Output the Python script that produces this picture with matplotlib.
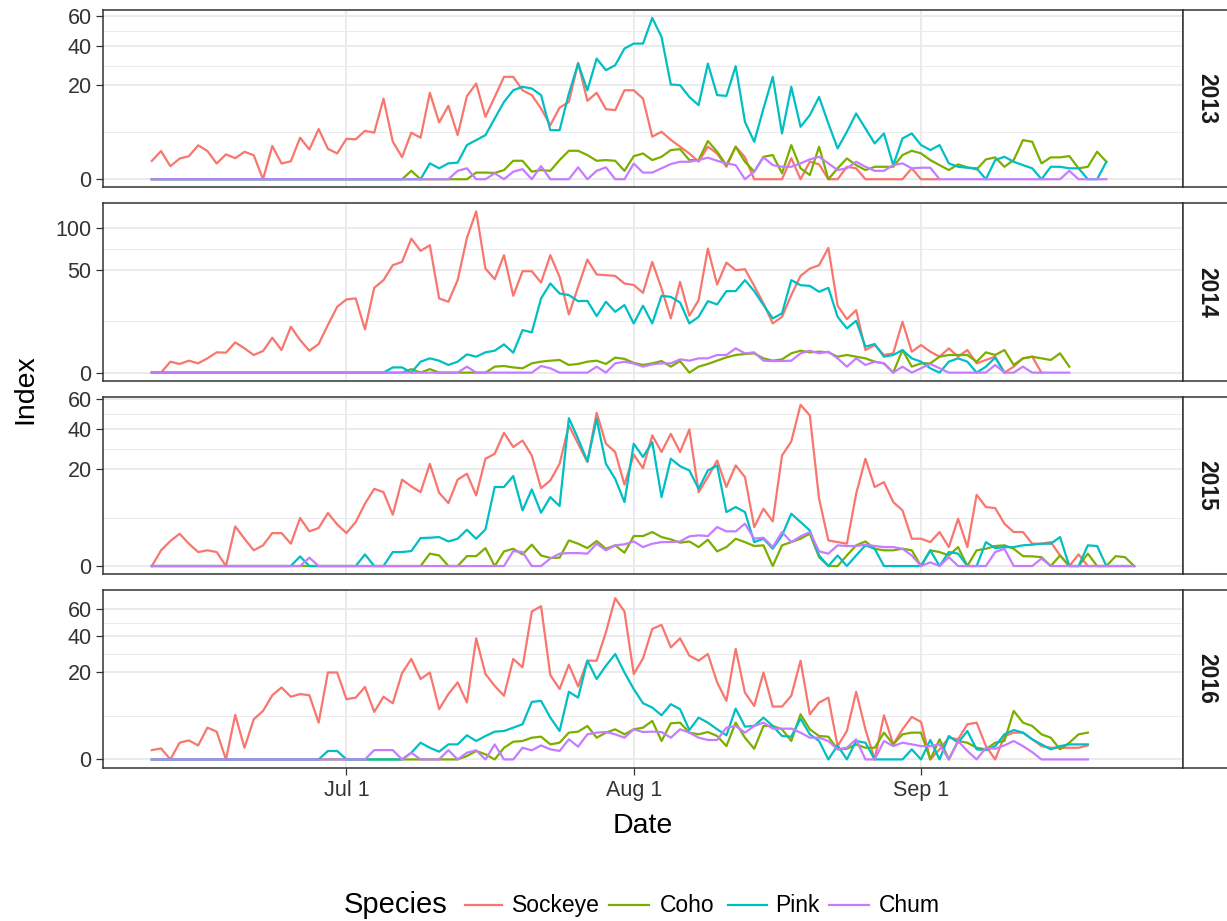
import numpy as np
import matplotlib
matplotlib.use("Agg")
import matplotlib.pyplot as plt
import matplotlib.dates as mdates
from matplotlib.lines import Line2D

plt.rcParams['font.family'] = ['Liberation Sans', 'DejaVu Sans']

# ---------------- data ----------------
years = [2013, 2014, 2015, 2016]
species = ['Sockeye', 'Coho', 'Pink', 'Chum']
colors = ['#F8766D', '#7CAE00', '#00BFC4', '#C77CFF']
season_start = '06-10'          # first survey day (same each year)
plot_year = '2000'              # common calendar used for the shared Date axis

sockeye_2013 = [0.76, 1.8, 0.38, 0.97, 1.2, 2.6, 1.8, 0.56, 1.4, 1.0,
                1.7, 1.3, 0, 2.5, 0.56, 0.73, 3.9, 2.0, 5.7, 2.1,
                1.5, 3.7, 3.6, 5.3, 4.9, 14.7, 3.2, 1.1, 4.9, 3.9,
                16.9, 7.3, 12.2, 4.4, 15.6, 20.7, 8.8, 15.3, 23.7, 23.7,
                17.9, 16.0, 11.3, 6.6, 11.6, 13.5, 30.6, 13.9, 16.9, 11.1,
                10.8, 17.9, 17.9, 14.7, 4.1, 5.1, 3.5, 2.4, 1.5, 0.7,
                2.4, 1.5, 0.35, 2.4, 1.1, 0, 0, 0, 0, 1.0,
                0, 0.7, 0.5, 0, 0, 0.35, 0.27, 0, 0, 0,
                0, 0, 0.27, 0, 0, 0]
coho_2013 = [0, 0, 0, 0, 0, 0, 0, 0, 0, 0,
             0, 0, 0, 0, 0, 0, 0, 0, 0, 0,
             0, 0, 0, 0, 0, 0, 0, 0, 0.16, 0,
             0, 0, 0, 0, 0, 0.1, 0.1, 0.09, 0.19, 0.77,
             0.77, 0.13, 0.19, 0.16, 0.83, 1.83, 1.83, 1.32, 0.77, 0.83,
             0.77, 0.16, 1.2, 1.5, 0.83, 1.14, 1.92, 2.05, 0.83, 0.83,
             3.3, 1.71, 0.45, 2.38, 0.69, 0.13, 1.14, 1.32, 0.08, 2.64,
             0.27, 0.04, 2.38, 0, 0.27, 0.98, 0.45, 0.19, 0.35, 0.35,
             0.35, 1.32, 1.83, 1.51, 0.83, 0.45, 0.19, 0.5, 0.32, 0.22,
             0.89, 1.08, 0.35, 0.83, 3.46, 3.17, 0.57, 1.08, 1.08, 1.21,
             0.27, 0.35, 1.71, 0.69]
pink_2013 = [0, 0, 0, 0, 0, 0, 0, 0, 0, 0,
             0, 0, 0, 0, 0, 0, 0, 0, 0, 0,
             0, 0, 0, 0, 0, 0, 0, 0, 0, 0,
             0.57, 0.27, 0.57, 0.62, 2.64, 3.46, 4.4, 8.35, 13.5, 17.9,
             19.3, 18.6, 16.0, 5.45, 5.45, 16.6, 30.2, 17.9, 32.9, 26.9,
             29.4, 38.6, 41.6, 41.6, 58.8, 45.8, 20.3, 20.0, 15.3, 12.4,
             30.2, 16.0, 15.7, 28.9, 7.46, 3.17, 11.3, 23.7, 4.74, 19.3,
             6.22, 9.29, 15.3, 7.03, 2.15, 5.09, 9.78, 5.83, 2.9, 4.74,
             0.45, 3.76, 4.74, 2.64, 1.92, 2.64, 0.57, 0.35, 0.3, 0.27,
             0, 0.83, 1.14, 0.69, 0.45, 0.27, 0, 0.35, 0.35, 0.27,
             0.27, 0, 0, 0.69]
chum_2013 = [0, 0, 0, 0, 0, 0, 0, 0, 0, 0,
             0, 0, 0, 0, 0, 0, 0, 0, 0, 0,
             0, 0, 0, 0, 0, 0, 0, 0, 0, 0,
             0, 0, 0, 0.16, 0.27, 0, 0, 0.08, 0, 0.13,
             0.23, 0, 0.39, 0, 0, 0, 0.32, 0, 0.16, 0.32,
             0, 0, 0.55, 0.1, 0.1, 0.27, 0.52, 0.69, 0.69, 0.83,
             1.05, 0.77, 0.57, 0.45, 0, 0.13, 1.08, 0.45, 0.35, 0.35,
             0.57, 0.89, 1.14, 0.57, 0.19, 0.27, 0.69, 0.35, 0.16, 0.16,
             0.45, 0.57, 0.27, 0.3, 0.3, 0, 0, 0, 0, 0,
             0, 0, 0, 0, 0, 0, 0, 0, 0, 0.16,
             0, 0, 0, 0]

sockeye_2014 = [0, 0, 0.57, 0.36, 0.68, 0.41, 0.97, 1.96, 1.89, 4.36,
                2.8, 1.48, 2.22, 5.8, 2.43, 10.0, 5.05, 2.29, 3.89, 10.8,
                20.6, 25.5, 26.2, 8.89, 34.2, 40.7, 54.9, 58.3, 85.4, 70.5,
                77.2, 26.2, 23.9, 40.7, 86.3, 123.7, 51.5, 41.5, 65.6, 28.1,
                48.9, 48.9, 38.6, 65.6, 43.6, 16.1, 35.0, 60.8, 45.8, 45.2,
                44.5, 37.8, 36.5, 30.3, 58.3, 33.7, 14.0, 39.2, 15.4, 25.0,
                73.2, 36.9, 57.6, 49.9, 50.9, 35.8, 22.8, 11.5, 14.8, 28.6,
                44.5, 51.5, 54.9, 74.0, 21.3, 13.6, 18.6, 2.43, 3.62, 1.48,
                1.77, 12.3, 2.09, 3.62, 2.09, 1.21, 2.8, 1.21, 2.43, 0.41,
                0.76, 1.21, 0, 0.17, 0.97, 1.21, 0]
coho_2014 = [0, 0, 0, 0, 0, 0, 0, 0, 0, 0,
             0, 0, 0, 0, 0, 0, 0, 0, 0, 0,
             0, 0, 0, 0, 0, 0, 0, 0, 0.06, 0,
             0.06, 0, 0, 0, 0, 0, 0, 0.17, 0.21, 0.13,
             0.09, 0.41, 0.57, 0.68, 0.76, 0.28, 0.36, 0.57, 0.68, 0.36,
             1.07, 0.9, 0.45, 0.28, 0.41, 0.64, 0.17, 0.64, 0, 0.17,
             0.36, 0.68, 1.11, 1.48, 1.65, 1.77, 0.97, 0.68, 0.84, 1.77,
             2.29, 1.96, 2.09, 1.96, 1.21, 1.48, 1.21, 0.97, 0.57, 0.41,
             0, 2.43, 0.17, 0.41, 0.41, 1.21, 1.48, 1.48, 1.48, 0.57,
             1.96, 1.48, 2.43, 0.28, 0.97, 1.21, 0.97, 0.76, 1.77, 0.17]
pink_2014 = [0, 0, 0, 0, 0, 0, 0, 0, 0, 0,
             0, 0, 0, 0, 0, 0, 0, 0, 0, 0,
             0, 0, 0, 0, 0, 0, 0.13, 0.13, 0, 0.57,
             0.97, 0.68, 0.28, 0.57, 1.59, 1.21, 1.96, 2.29, 3.8, 1.89,
             8.62, 7.7, 26.2, 37.8, 29.8, 28.6, 24.3, 24.5, 15.2, 23.9,
             17.6, 21.7, 11.5, 21.3, 11.5, 28.1, 27.3, 23.4, 11.5, 14.8,
             24.3, 22.1, 31.6, 31.6, 40.7, 31.6, 21.7, 14.0, 16.7, 40.7,
             36.4, 35.8, 31.1, 34.2, 14.8, 9.3, 12.8, 3.2, 3.89, 1.21,
             1.48, 2.43, 0.97, 0.57, 0.09, 0, 0.57, 0.97, 0.57, 0,
             0.17, 1.07, 0]
chum_2014 = [0, 0, 0, 0, 0, 0, 0, 0, 0, 0,
             0, 0, 0, 0, 0, 0, 0, 0, 0, 0,
             0, 0, 0, 0, 0, 0, 0, 0, 0, 0,
             0, 0, 0, 0, 0.17, 0, 0, 0, 0, 0,
             0, 0, 0.21, 0.09, 0, 0, 0, 0, 0.17, 0,
             0.41, 0.57, 0.4, 0.17, 0.33, 0.41, 0.41, 0.84, 0.68, 0.97,
             0.97, 1.48, 1.48, 2.8, 1.77, 1.96, 0.68, 0.64, 0.64, 0.68,
             1.77, 2.29, 1.77, 2.09, 0.97, 0.17, 0.97, 0.28, 0.57, 0.41,
             0, 0.17, 0, 0.09, 0.36, 0.09, 0, 0, 0, 0,
             0, 0.28, 0, 0, 0.17, 0, 0, 0, 0, 0]

sockeye_2015 = [0, 0.53, 1.34, 2.24, 1.07, 0.42, 0.53, 0.42, 0, 3.37,
                1.6, 0.53, 0.92, 2.33, 2.33, 1.07, 4.94, 2.58, 3.1, 6.02,
                3.72, 2.33, 4.15, 8.33, 12.8, 11.7, 5.65, 16.0, 13.6, 11.7,
                22.4, 11.5, 8.51, 16.0, 18.3, 10.7, 24.7, 27.0, 38.1, 30.4,
                33.8, 26.2, 13.0, 15.7, 22.4, 42.4, 32.1, 23.2, 50.4, 32.1,
                27.9, 14.2, 26.6, 20.5, 36.6, 27.9, 37.5, 27.9, 40.0, 11.7,
                17.0, 23.9, 13.4, 21.7, 17.0, 3.26, 7.05, 4.28, 26.2, 33.3,
                55.8, 48.7, 9.72, 1.41, 1.23, 1.07, 11.2, 24.7, 13.4, 15.1,
                8.78, 6.64, 1.6, 1.6, 1.23, 2.48, 0.77, 4.8, 0.77, 10.9,
                7.46, 7.21, 3.84, 2.48, 2.48, 1.07, 1.07, 1.23, 0.24, 0,
                0.29, 0, 0, 0]
coho_2015 = [0, 0, 0, 0, 0, 0, 0, 0, 0, 0,
             0, 0, 0, 0, 0, 0, 0, 0, 0, 0,
             0, 0, 0, 0, 0, 0, 0, 0, 0, 0,
             0.33, 0.24, 0, 0, 0.21, 0.21, 0.69, 0, 0.46, 0.64,
             0.29, 0.98, 0.24, 0.14, 0.15, 1.41, 1.07, 0.69, 1.34, 0.64,
             0.92, 0.38, 1.93, 1.93, 2.48, 1.8, 1.52, 1.17, 1.3, 0.77,
             1.49, 0.46, 0.77, 1.6, 1.23, 0.86, 0.92, 0, 0.92, 1.23,
             1.6, 2.24, 0.17, 0, 0, 0.24, 0.92, 1.3, 0.64, 0.53,
             0.53, 0.64, 0.53, 0, 0.53, 0.42, 0.24, 0.77, 0, 0.53,
             0.64, 0.86, 0.92, 0.64, 0.21, 0.2, 0.17, 0, 0.24, 0,
             0, 0.33, 0, 0, 0.21, 0.17, 0]
pink_2015 = [0, 0, 0, 0, 0, 0, 0, 0, 0, 0,
             0, 0, 0, 0, 0, 0, 0.2, 0, 0, 0,
             0, 0, 0, 0.29, 0, 0, 0.42, 0.42, 0.48, 1.68,
             1.72, 1.8, 1.3, 1.6, 2.83, 1.6, 2.88, 13.4, 13.4, 17.4,
             6.64, 12.6, 6.1, 10.2, 7.72, 46.9, 34.8, 23.5, 46.5, 22.4,
             16.3, 8.78, 32.1, 25.5, 33.0, 10.2, 24.7, 21.4, 19.6, 12.8,
             19.6, 21.7, 6.25, 7.46, 6.25, 1.23, 1.6, 0.64, 2.02, 5.87,
             4.15, 2.73, 0.24, 0, 0.24, 0, 0.24, 0.92, 0.64, 0,
             0, 0, 0, 0, 0.53, 0, 0.42, 0.33, 0, 0,
             1.23, 0.69, 0.77, 0.77, 0.92, 0.98, 1.07, 1.07, 1.8, 0,
             0, 0.92, 0.86, 0, 0, 0, 0]
chum_2015 = [0, 0, 0, 0, 0, 0, 0, 0, 0, 0,
             0, 0, 0, 0, 0, 0, 0, 0.15, 0, 0,
             0, 0, 0, 0, 0, 0, 0, 0, 0, 0,
             0, 0, 0, 0, 0, 0, 0, 0, 0, 0.48,
             0.42, 0, 0, 0.12, 0.33, 0.36, 0.36, 0.33, 1.07, 0.53,
             0.92, 1.01, 1.3, 0.77, 1.07, 1.23, 1.23, 1.3, 1.89, 2.02,
             1.93, 3.26, 2.58, 2.58, 3.84, 1.6, 1.72, 0.77, 2.48, 1.23,
             1.89, 2.48, 0.46, 0.33, 0.92, 0.86, 0.86, 0.98, 0.86, 0.77,
             0.77, 0.64, 0.24, 0, 0.03, 0, 0.17, 0, 0, 0,
             0, 0.42, 0.64, 0, 0, 0, 0.12, 0, 0, 0,
             0, 0, 0, 0, 0, 0, 0]

sockeye_2016 = [0.23, 0.32, 0, 0.74, 0.96, 0.52, 2.67, 2.04, 0, 5.24,
                0.36, 4.27, 6.23, 10.9, 13.7, 10.4, 11.3, 10.9, 3.58, 20.0,
                20.0, 9.6, 10.1, 13.9, 5.97, 10.4, 8.36, 19.7, 26.7, 17.1,
                20.0, 6.67, 11.3, 15.7, 8.56, 38.8, 19.3, 14.3, 10.7, 26.7,
                22.4, 57.9, 62.1, 18.8, 13.1, 23.7, 14.1, 25.8, 25.8, 42.8,
                68.8, 57.9, 19.3, 27.0, 45.1, 47.9, 33.2, 38.8, 28.5, 25.8,
                29.4, 15.7, 9.07, 32.3, 11.8, 7.58, 20.0, 7.4, 7.4, 10.7,
                25.8, 5.4, 8.56, 10.1, 0.47, 2.14, 12.1, 2.4, 0, 5.16,
                0.6, 2.4, 4.78, 3.72, 0, 0.27, 1.25, 1.07, 3.27, 3.58,
                0.47, 0, 1.45, 1.9, 1.9, 1.07, 0.47, 0.36, 0.36, 0.36,
                0.36, 0.52]
coho_2016 = [0, 0, 0, 0, 0, 0, 0, 0, 0, 0,
             0, 0, 0, 0, 0, 0, 0, 0, 0, 0,
             0, 0, 0, 0, 0, 0, 0, 0, 0, 0,
             0, 0, 0, 0, 0.03, 0.19, 0.07, 0, 0.36, 0.83,
             0.9, 1.25, 1.37, 0.6, 0.74, 1.9, 2.04, 2.96, 1.25, 1.9,
             2.4, 1.67, 2.4, 2.67, 3.92, 0.9, 3.45, 3.58, 1.9, 1.67,
             1.99, 1.45, 0.47, 3.58, 1.25, 0.3, 2.96, 2.96, 2.4, 0.9,
             5.4, 2.4, 1.45, 1.37, 0.27, 0.3, 0.6, 0.36, 0.36, 1.9,
             0.6, 1.67, 1.9, 1.9, 0, 1.07, 0, 0.9, 0.74, 0.36,
             0.27, 0.74, 0.9, 6.23, 3.58, 2.96, 1.67, 1.25, 0.27, 0.74,
             1.67, 1.9]
pink_2016 = [0, 0, 0, 0, 0, 0, 0, 0, 0, 0,
             0, 0, 0, 0, 0, 0, 0, 0, 0, 0.19,
             0.19, 0, 0, 0, 0, 0, 0, 0, 0.12, 0.74,
             0.36, 0.16, 0.6, 0.6, 1.54, 0.9, 1.45, 2.04, 2.14, 2.67,
             3.27, 8.76, 9.07, 4.63, 2.14, 12.1, 10.1, 25.8, 17.1, 23.2,
             29.4, 20.0, 13.1, 8.36, 7.12, 5.16, 8.07, 6.67, 2.29, 4.63,
             3.58, 2.4, 1.54, 6.84, 2.85, 2.96, 4.63, 2.96, 1.45, 1.37,
             4.41, 1.67, 0.9, 0, 0.52, 0, 0.9, 0.74, 0, 0,
             0, 0, 0.27, 0, 1.0, 0, 1.45, 0.74, 2.14, 0.27,
             0.23, 0.47, 1.67, 2.29, 1.9, 1.07, 0.6, 0.27, 0.47, 0.6,
             0.6, 0.6]
chum_2016 = [0, 0, 0, 0, 0, 0, 0, 0, 0, 0,
             0, 0, 0, 0, 0, 0, 0, 0, 0, 0,
             0, 0, 0, 0, 0.23, 0.23, 0.23, 0, 0.12, 0,
             0, 0, 0.23, 0, 0.12, 0.22, 0, 0.6, 0, 0,
             0.36, 0.22, 0.52, 0.27, 0.19, 1.07, 0.43, 1.67, 1.9, 1.99,
             1.67, 1.25, 2.4, 1.99, 2.04, 1.99, 1.25, 2.4, 1.9, 1.25,
             1.0, 1.0, 2.67, 2.96, 1.9, 2.96, 3.58, 2.51, 2.51, 2.51,
             1.9, 1.25, 1.25, 0.9, 0.27, 0.36, 1.07, 0, 0, 0.9,
             0.47, 0.74, 0.6, 0.47, 0.47, 0.6, 0, 0.9, 0.19, 0,
             0.36, 0.3, 0.52, 0.9, 0.47, 0.14, 0, 0, 0, 0,
             0, 0]

yticks_2013 = [0, 20, 40, 60]
yticks_2014 = [0, 50, 100]
yticks_2015 = [0, 20, 40, 60]
yticks_2016 = [0, 20, 40, 60]
xtick_dates = ['07-01', '08-01', '09-01']
xtick_labels = ['Jul 1', 'Aug 1', 'Sep 1']

series = {
    2013: [sockeye_2013, coho_2013, pink_2013, chum_2013],
    2014: [sockeye_2014, coho_2014, pink_2014, chum_2014],
    2015: [sockeye_2015, coho_2015, pink_2015, chum_2015],
    2016: [sockeye_2016, coho_2016, pink_2016, chum_2016],
}
yticks = {2013: yticks_2013, 2014: yticks_2014, 2015: yticks_2015, 2016: yticks_2016}

# ---------------- layout ----------------
W, H = 1227, 921
fig = plt.figure(figsize=(W / 100, H / 100), dpi=100)

panel_left, panel_right = 102.7, 1183.3
panel_tops = [9.9, 203.3, 396.7, 590.1]
panel_h = 177.4
strip_right = 1250.0

BORDER = '#333333'
GRID = '#EBEBEB'
TICKTXT = '#333333'


def fwd(y):
    y = np.asarray(y, dtype=float)
    return np.sign(y) * np.sqrt(np.abs(y))


def inv(t):
    t = np.asarray(t, dtype=float)
    return np.sign(t) * t ** 2


start = np.datetime64(plot_year + '-' + season_start)


def day_axis(n):
    return mdates.date2num(start + np.arange(n).astype('timedelta64[D]'))


all_x = np.concatenate([day_axis(len(s)) for y in years for s in series[y]])
xmin, xmax = all_x.min(), all_x.max()
xr = xmax - xmin
xlim = (xmin - 0.05 * xr, xmax + 0.05 * xr)
xt = mdates.date2num(np.array([np.datetime64(plot_year + '-' + d) for d in xtick_dates]))

for i, yr in enumerate(years):
    top = panel_tops[i]
    ax = fig.add_axes([panel_left / W, 1 - (top + panel_h) / H,
                       (panel_right - panel_left) / W, panel_h / H])
    ax.set_yscale('function', functions=(fwd, inv))
    for vals, col in zip(series[yr], colors):
        ax.plot(day_axis(len(vals)), vals, color=col, lw=1.6, solid_joinstyle='round')
    ymax = max(max(v) for v in series[yr])
    M = np.sqrt(ymax)
    ax.set_ylim(inv(-0.05 * M), inv(1.05 * M))
    ax.set_xlim(*xlim)

    tk = np.array(yticks[yr], dtype=float)
    ax.set_yticks(tk)
    ax.set_yticklabels([str(int(t)) for t in tk])
    st = np.sqrt(tk)
    ax.set_yticks(((st[:-1] + st[1:]) / 2) ** 2, minor=True)
    ax.set_xticks(xt)
    ax.set_xticks([], minor=True)
    if i == len(years) - 1:
        ax.set_xticklabels(xtick_labels)
        ax.tick_params(axis='x', which='major', length=5, width=0.9, color=BORDER,
                       labelsize=15.5, labelcolor=TICKTXT, pad=4)
    else:
        ax.tick_params(axis='x', which='major', length=0, labelbottom=False)
    ax.tick_params(axis='y', which='major', length=5, width=0.9, color=BORDER,
                   labelsize=15.5, labelcolor=TICKTXT, pad=3)
    ax.tick_params(which='minor', length=0)

    ax.set_axisbelow(True)
    ax.grid(which='major', color=GRID, lw=1.4)
    ax.grid(which='minor', axis='y', color=GRID, lw=0.7)
    for sp in ax.spines.values():
        sp.set_color(BORDER)
        sp.set_linewidth(1.1)

    # facet strip
    sax = fig.add_axes([panel_right / W, 1 - (top + panel_h) / H,
                        (strip_right - panel_right) / W, panel_h / H])
    sax.set_facecolor('white')
    sax.set_xticks([])
    sax.set_yticks([])
    for sp in sax.spines.values():
        sp.set_color(BORDER)
        sp.set_linewidth(1.1)
    fig.text(1206.5 / W, 1 - (top + panel_h / 2) / H, str(yr), rotation=-90,
             ha='center', va='center', fontsize=16.5, fontweight='bold', color='#1A1A1A')

# axis titles
fig.text((panel_left + panel_right) / 2 / W, 1 - 826 / H, 'Date',
         ha='center', va='center', fontsize=20.5, color='black')
fig.text(25 / W, 1 - ((panel_tops[0] + panel_tops[-1] + panel_h) / 2) / H, 'Index',
         rotation=90, ha='center', va='center', fontsize=20.5, color='black')

# legend
leg_y = 1 - 905 / H
fig.text(344 / W, leg_y, 'Species', ha='left', va='center', fontsize=21, color='black')
key_x = [(465, 502), (609, 649), (728, 767), (829, 869)]
lab_x = [512, 660, 775, 879]
for (k0, k1), lx, name, col in zip(key_x, lab_x, species, colors):
    fig.add_artist(Line2D([k0 / W, k1 / W], [leg_y, leg_y], transform=fig.transFigure,
                          color=col, lw=1.6))
    fig.text(lx / W, leg_y, name, ha='left', va='center', fontsize=16.5, color='black')

fig.savefig('out.png', dpi=100, facecolor='white')
